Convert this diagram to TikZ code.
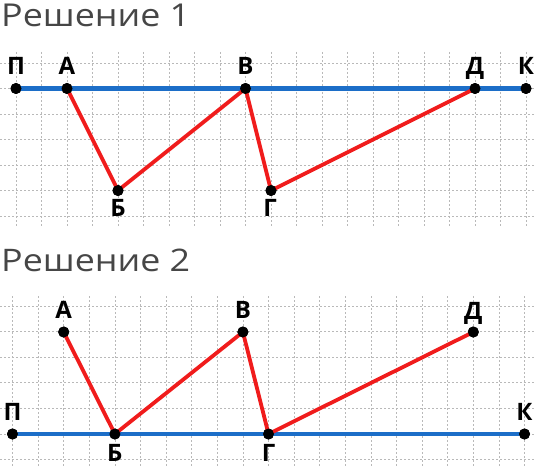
\documentclass[tikz,border=0pt]{standalone}
\usepackage{fontspec}
\setmainfont{Open Sans}
\definecolor{lineblue}{RGB}{28,110,200}
\definecolor{pathred}{RGB}{240,28,28}
\definecolor{titlegray}{RGB}{70,70,70}
\definecolor{gridgray}{RGB}{185,185,185}
\begin{document}
\begin{tikzpicture}[x=1pt,y=-1pt,
  gridline/.style={draw=gridgray, line width=0.8pt, dash pattern=on 2pt off 2pt},
  baseline/.style={draw=lineblue, line width=4.2pt},
  redpath/.style={draw=pathred, line width=3.8pt, line cap=round, line join=round},
  dot/.style={circle, fill=black, inner sep=0pt, minimum size=11pt},
  lab/.style={font=\fontsize{24}{24}\selectfont\bfseries, inner sep=0pt, anchor=base},
  heading/.style={text=titlegray, anchor=base west, inner sep=0pt}]
\useasboundingbox (0,0) rectangle (535,468);
% grid, part 1
\foreach \k in {-1,...,5} \draw[gridline] (0,88.5+25.5*\k) -- (535,88.5+25.5*\k);
\foreach \k in {0,...,21} \draw[gridline] (16+25.5*\k,52) -- (16+25.5*\k,226);
% grid, part 2
\foreach \k in {-5,...,1} \draw[gridline] (0,434+25.6*\k) -- (535,434+25.6*\k);
\foreach \k in {0,...,21} \draw[gridline] (12.5+25.6*\k,296) -- (12.5+25.6*\k,468);
% headings
\node[heading] (h1) at (1,26.5) {\resizebox{189pt}{22.5pt}{\fontsize{30}{30}\selectfont Решение 1}};
\node[heading] (h2) at (1,271) {\resizebox{189pt}{22.5pt}{\fontsize{30}{30}\selectfont Решение 2}};
% part 1 points
\node[dot] (P1) at (16,88.5) {};
\node[dot] (A1) at (67,88.5) {};
\node[dot] (V1) at (245.5,88.5) {};
\node[dot] (D1) at (475,88.5) {};
\node[dot] (K1) at (526,88.5) {};
\node[dot] (B1) at (118,190.5) {};
\node[dot] (G1) at (271,190.5) {};
% part 2 points
\node[dot] (P2) at (12.5,434) {};
\node[dot] (A2) at (63.7,332) {};
\node[dot] (B2) at (114.9,434) {};
\node[dot] (V2) at (242.9,332) {};
\node[dot] (G2) at (268.5,434) {};
\node[dot] (D2) at (473.3,332) {};
\node[dot] (K2) at (524.5,434) {};
% lines
\draw[baseline] (P1.center) -- (K1.center);
\draw[redpath] (A1.center) -- (B1.center) -- (V1.center) -- (G1.center) -- (D1.center);
\draw[baseline] (P2.center) -- (K2.center);
\draw[redpath] (A2.center) -- (B2.center) -- (V2.center) -- (G2.center) -- (D2.center);
% dots on top of the lines
\foreach \n in {P1,A1,V1,D1,K1,B1,G1,P2,A2,B2,V2,G2,D2,K2}
  \fill (\n.center) circle (5.5pt);
% labels part 1
\node[lab] (lP1) at (16,75) {П};
\node[lab] (lA1) at (67,75) {А};
\node[lab] (lV1) at (245.5,75) {В};
\node[lab] (lD1) at (475,75) {Д};
\node[lab] (lK1) at (526,75) {К};
\node[lab] (lB1) at (118,216) {Б};
\node[lab] (lG1) at (270,216) {Г};
% labels part 2
\node[lab] (lA2) at (63.7,318.5) {А};
\node[lab] (lV2) at (242.9,318.5) {В};
\node[lab] (lD2) at (473.3,319.5) {Д};
\node[lab] (lP2) at (12.5,420) {П};
\node[lab] (lK2) at (524.5,420) {К};
\node[lab] (lB2) at (114.9,461) {Б};
\node[lab] (lG2) at (268.5,461) {Г};
\end{tikzpicture}
\end{document}
